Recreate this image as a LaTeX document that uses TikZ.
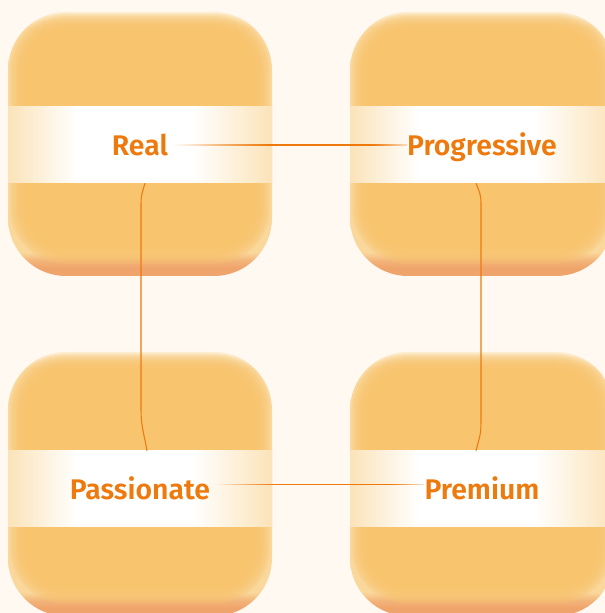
\documentclass[tikz,border=0pt]{standalone}
\usepackage{fontspec}
\newfontfamily\labelfont{Fira Sans SemiBold}
\usetikzlibrary{fadings}

\definecolor{bgcol}{HTML}{FFF9F2}
\definecolor{boxmain}{HTML}{F8C46D}
\definecolor{boxrim}{HTML}{FAD79B}
\definecolor{boxtop}{HTML}{FDEDCF}
\definecolor{boxlow}{HTML}{F3B57A}
\definecolor{boxbot}{HTML}{EFA46B}
\definecolor{bandedge}{HTML}{FBE3B9}
\definecolor{tagorange}{HTML}{EE7A0E}

\pgfdeclareverticalshading{boxshade}{100bp}{color(0bp)=(boxbot); color(25bp)=(boxbot); color(26.5bp)=(boxbot); color(28bp)=(boxlow); color(29.5bp)=(boxrim); color(72bp)=(boxrim); color(75bp)=(boxtop); color(100bp)=(boxtop)}
\pgfdeclarehorizontalshading{bandshade}{100bp}{color(0bp)=(bandedge); color(25bp)=(bandedge); color(38bp)=(white); color(60bp)=(white); color(75bp)=(bandedge); color(100bp)=(bandedge)}

% fadings for the two cross links, origin at the left end
\begin{tikzfadingfrompicture}[name=topends]
  \fill[transparent!100] (-200pt,-10pt) rectangle (200pt,10pt);
  \shade[left color=transparent!100, right color=transparent!0] (0pt,-10pt) rectangle (72pt,10pt);
  \fill[transparent!0] (72pt,-10pt) rectangle (150pt,10pt);
  \shade[left color=transparent!0, right color=transparent!85] (150pt,-10pt) rectangle (178pt,10pt);
\end{tikzfadingfrompicture}
\begin{tikzfadingfrompicture}[name=bottomends]
  \fill[transparent!100] (-200pt,-10pt) rectangle (200pt,10pt);
  \shade[left color=transparent!100, right color=transparent!0] (0pt,-10pt) rectangle (45pt,10pt);
  \fill[transparent!0] (45pt,-10pt) rectangle (132pt,10pt);
  \shade[left color=transparent!0, right color=transparent!85] (132pt,-10pt) rectangle (160pt,10pt);
\end{tikzfadingfrompicture}

% soft rounded box, centre given in px
\def\softbox(#1,#2){%
  \shade[shading=boxshade, rounded corners=43.5pt] (#1-132,#2-132) rectangle (#1+132,#2+132);
  \foreach \i in {2,4,...,18}{
    \pgfmathsetmacro\rr{(58-\i)*0.75}
    \fill[boxmain, opacity=0.25, rounded corners=\rr pt] (#1-132+\i,#2-132+\i+10) rectangle (#1+132-\i,#2+132-\i);
  }
}

\tikzset{
  band/.style={shading=bandshade, minimum width=198pt, minimum height=57pt, inner sep=0pt},
  tag/.style={text=tagorange, font=\labelfont\fontsize{21.3}{25}\selectfont, text height=15.5pt, text depth=0pt, inner sep=3pt},
  link/.style={draw=tagorange, line width=0.8pt}
}

\begin{document}
\begin{tikzpicture}[x=0.75pt,y=0.75pt]
			%%%%% START %%%%%
			\useasboundingbox (0,0) rectangle (605,613);
			\fill[bgcol] (0,0) rectangle (605,613);
			\clip (0,0) rectangle (605,613);
			
			\softbox(140,469)
			\softbox(482,469)
			\softbox(140,129)
			\softbox(482,129)
			
			\node[band] (realband) at (140,468) {};
			\node[band] (progband) at (482,468) {};
			\node[band] (passband) at (140,124) {};
			\node[band] (premband) at (482,124) {};
			
			\node[tag] (real) at (realband) {Real};
			\node[tag] (prog) at (progband) {Progressive};
			\node[tag] (pass) at (passband) {Passionate};
			\node[tag] (prem) at (premband) {Premium};
			
			\draw[link, path fading=topends, fit fading=false, fading transform={shift={(real.east)}}] (real.east) -- ([xshift=3pt]prog.west);
			\draw[link, path fading=bottomends, fit fading=false, fading transform={shift={([yshift=3.5pt]pass.east)}}] ([yshift=3.5pt]pass.east) -- ([yshift=3.5pt,xshift=3pt]prem.west);
			
			\draw[link] ([xshift=3.75pt]realband.south) .. controls +(-3,-10) and +(0,10) .. (141,408) -- (141,205) .. controls +(0,-20) and +(-3,18) .. ([xshift=5.25pt]passband.north);
			\draw[link] ([xshift=-4.5pt]progband.south) .. controls +(4,-10) and +(0,10) .. (481,408) -- (481,195) .. controls +(0,-18) and +(4,16) .. ([xshift=-4.5pt]premband.north);
			%%%%% END %%%%%
\end{tikzpicture}
\end{document}
